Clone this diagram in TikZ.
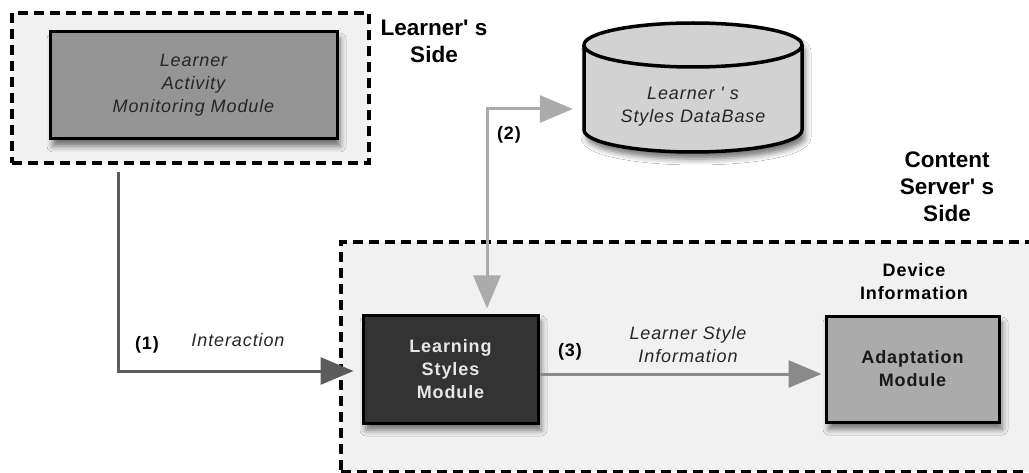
\documentclass[tikz,border=0pt]{standalone}
\usepackage{fontspec}
\setmainfont{Liberation Sans}[Ligatures=TeXOff]
\newfontfamily\spaced{Liberation Sans}[LetterSpace=5,Ligatures=TeXOff]
\usetikzlibrary{arrows.meta,shadows.blur,calc}

\definecolor{zonefill}{HTML}{F1F1F1}
\definecolor{lammfill}{HTML}{959595}
\definecolor{dbfill}{HTML}{D2D2D2}
\definecolor{lsmfill}{HTML}{333333}
\definecolor{adfill}{HTML}{ABABAB}
\definecolor{lsmtext}{HTML}{E6E6E6}
\definecolor{arrowA}{HTML}{5C5C5C}
\definecolor{arrowB}{HTML}{ABABAB}
\definecolor{arrowC}{HTML}{8A8A8A}

\begin{document}
\begin{tikzpicture}[x=1pt,y=1pt,
  zone/.style={draw=black, line width=3.2pt, dash pattern=on 10pt off 6pt, fill=zonefill},
  softshadow/.style={blur shadow={shadow xshift=3pt,shadow yshift=-7pt,shadow blur radius=6pt,shadow opacity=55}},
  module/.style={draw=black, line width=3pt, softshadow, inner sep=0pt},
  smallit/.style={font=\spaced\itshape\fontsize{18}{23}\selectfont, align=center},
  smallbf/.style={font=\spaced\bfseries\fontsize{18}{23}\selectfont, align=center},
  big/.style={font=\bfseries\fontsize{22.5}{27}\selectfont, align=center},
  link/.style={line width=3pt, -{Triangle[length=33pt,width=27pt]}},
  biglink/.style={line width=3pt, {Triangle[length=33pt,width=27pt]}-{Triangle[length=33pt,width=27pt]}},
]
\useasboundingbox (0,0) rectangle (1029,472);
\clip (0,0) rectangle (1029,472);
\fill[white] (0,0) rectangle (1029,472);

% side zones (the server zone runs past the right and bottom edges)
\node[zone, minimum width=357pt, minimum height=150pt] (ls) at (190.5,384) {};
\node[zone, minimum width=704pt, minimum height=230pt] (cs) at (693,115) {};

% zone titles
\node[big] (lstitle) at (434,431) {Learner' s\\Side};
\node[big] (cstitle) at (947,285) {Content\\Server' s\\Side};

% modules
\node[module, fill=lammfill, minimum width=287pt, minimum height=107pt, smallit, text=black!85]
  (lamm) at (193.5,386.5) {Learner\\Activity\\Monitoring Module};
\node[module, fill=lsmfill, minimum width=175pt, minimum height=108pt, smallbf, text=lsmtext]
  (lsm) at (450.5,103) {Learning\\Styles\\Module};
\node[module, fill=adfill, minimum width=173pt, minimum height=106pt, smallbf, text=black!90]
  (ad) at (912.5,103) {Adaptation\\Module};
\node[smallbf] (devinfo) at (914,190) {Device\\Information};

% database cylinder
\path[draw=black, line width=3.5pt, fill=dbfill, softshadow]
  (584,427) -- (584,342) arc[start angle=180,end angle=360,x radius=109,y radius=22]
  -- (802,427) arc[start angle=0,end angle=180,x radius=109,y radius=22] -- cycle;
\draw[line width=3.5pt] (584,427) arc[start angle=180,end angle=360,x radius=109,y radius=22];
\node[smallit, text=black!85, minimum width=218pt] (db) at (693,365) {Learner ' s\\Styles DataBase};

% connectors
\draw[link, draw=arrowA, color=arrowA]
  ([xshift=-72.5pt,yshift=-7pt]ls.south) |- ([xshift=-8pt,yshift=-2pt]lsm.west);
\draw[biglink, draw=arrowB, color=arrowB]
  ([xshift=36.5pt,yshift=5pt]lsm.north) |- ([xshift=-11pt,yshift=-2pt]db.west);
\draw[link, draw=arrowC, color=arrowC]
  ([yshift=-5pt]lsm.east) -- ([xshift=-3pt,yshift=-5pt]ad.west);

% connector labels
\node[smallbf] (l1) at (147,127) {(1)};
\node[smallit, text=black!85] (inter) at (238,132) {Interaction};
\node[smallbf] (l2) at (509,337) {(2)};
\node[smallbf] (l3) at (570,120) {(3)};
\node[smallit, text=black!85] (lsi) at (688,127) {Learner Style\\Information};
\end{tikzpicture}
\end{document}
